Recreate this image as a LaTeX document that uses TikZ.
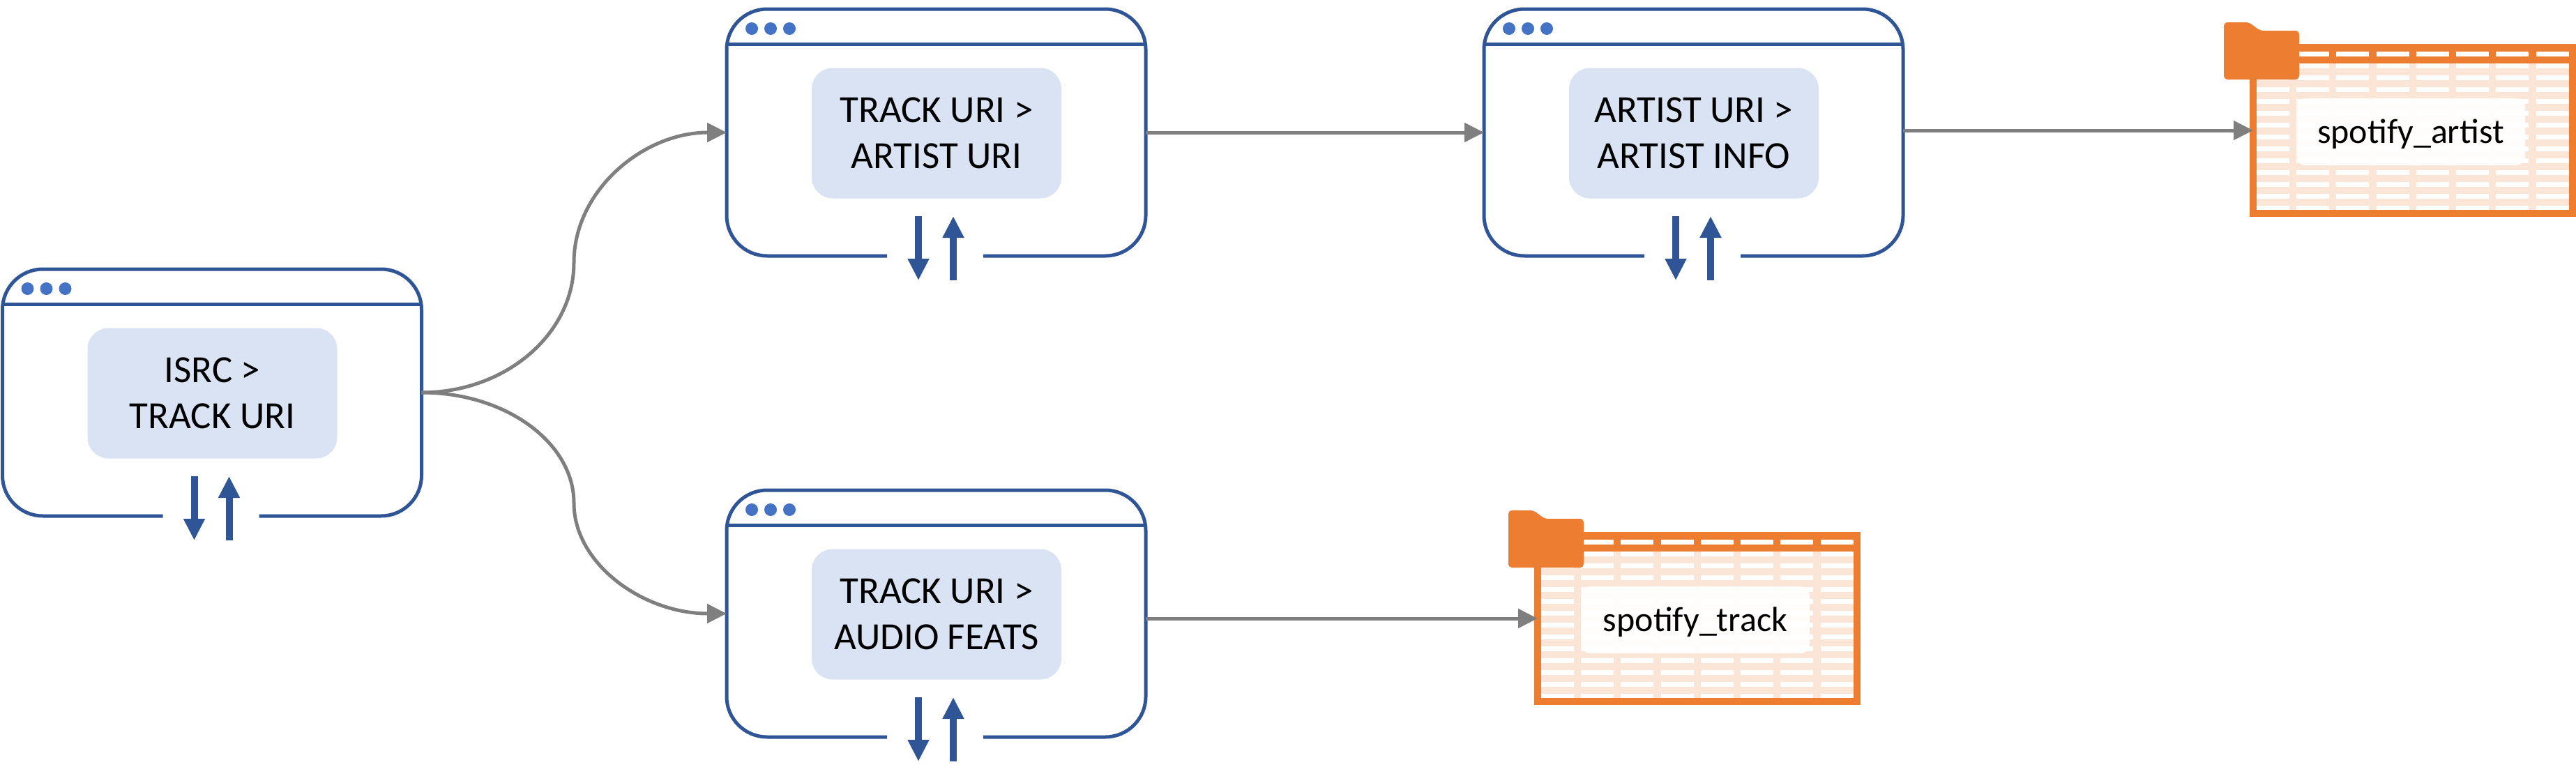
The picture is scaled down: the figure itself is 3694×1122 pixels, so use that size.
\documentclass[tikz,border=0pt]{standalone}
\usepackage{fontspec}
\setmainfont{Carlito}
\usetikzlibrary{arrows.meta}
\definecolor{wblue}{HTML}{2F5597}
\definecolor{wdot}{HTML}{4472C4}
\definecolor{wfill}{HTML}{DAE3F3}
\definecolor{torange}{HTML}{ED7D31}
\definecolor{tlight}{HTML}{FBE5D6}
\definecolor{cgrey}{HTML}{7F7F7F}
\tikzset{
  frameline/.style={draw=wblue,line width=5pt},
  windot/.style={fill=wdot,draw=none},
  iolink/.style={draw=wblue,line width=10pt,-{Triangle[length=31pt,width=29pt]}},
  windowbox/.style={minimum width=601pt,minimum height=354pt,inner sep=0pt,outer sep=0pt},
  stepcard/.style={fill=wfill,rounded corners=30pt,minimum width=358pt,minimum height=187pt,inner sep=0pt,align=center,font=\fontsize{55pt}{66pt}\selectfont},
  tableframe/.style={draw=torange,line width=10pt,minimum width=458pt,minimum height=238pt,inner sep=0pt,outer sep=0pt},
  tablecard/.style={fill=white,fill opacity=.93,text opacity=1,rounded corners=13pt,minimum width=328pt,minimum height=96pt,inner sep=0pt,text height=32pt,text depth=0pt,font=\fontsize{50pt}{60pt}\selectfont},
  flow/.style={draw=cgrey,line width=5pt,-{Triangle[length=28pt,width=27pt]}},
}
\newcommand{\windowat}[5]{%
  \begin{scope}[shift={(#2,#3)}]
    \node[windowbox] (#1) at (300.5,177) {};
    \draw[frameline,rounded corners=58pt] (230,354) -- (0,354) -- (0,0) -- (601,0) -- (601,354) -- (368,354);
    \draw[frameline] (1,50) -- (600,50);
    \foreach \dx in {36,63,90} \fill[windot] (\dx,28) circle (9);
    \node[stepcard] (#1card) at (301,178) {#4\\#5};
    \draw[iolink] (275,297) -- (275,389);
    \draw[iolink] (325,389) -- (325,297);
  \end{scope}}
\newcommand{\tableat}[4]{%
  \begin{scope}[shift={(#2,#3)}]
    \fill[tlight] (10,28) rectangle (458,238);
    \foreach \cx in {10,67.2,124.4,181.6,239,296.1,353.4,410.6}{
      \fill[white] (\cx,11) rectangle +(46.9,7);
      \foreach \ry in {0,...,12} \fill[white] (\cx,28+\ry*17) rectangle +(46.9,6.5);
    }
    \fill[torange] (10,0) rectangle (458,11);
    \fill[torange] (10,18) rectangle (458,28);
    \foreach \cx in {56.9,114.1,171.3,228.5,285.9,343,400.3} \fill[torange] (\cx,11) rectangle (\cx+10.3,18);
    \node[tableframe] (#1) at (234,124) {};
    \fill[torange,rounded corners=5pt] (-37,51) -- (-37,-31) -- (-1,-31) -- (15,-19) -- (71,-19) -- (71,51) -- cycle;
    \node[tablecard] (#1card) at (231,126) {#4};
  \end{scope}}
\begin{document}
\begin{tikzpicture}[x=1pt,y=-1pt]
\useasboundingbox (0,0) rectangle (3694,1122);
\windowat{isrc}{3.5}{386}{ISRC >}{TRACK URI}
\windowat{turi}{1042}{13}{TRACK URI >}{ARTIST URI}
\windowat{afeat}{1042}{703}{TRACK URI >}{AUDIO FEATS}
\windowat{auri}{2128}{13}{ARTIST URI >}{ARTIST INFO}
\tableat{artist}{3226}{63}{spotify\_artist}
\tableat{track}{2200}{763}{spotify\_track}
\coordinate (mupper) at (823,376.5);
\coordinate (mlower) at (823,721.5);
\draw[flow] (isrc.east) .. controls +(120,0) and +(0,103) .. (mupper) .. controls +(0,-103) and +(-120,0) .. (turi.west);
\draw[flow] (isrc.east) .. controls +(120,0) and +(0,-87) .. (mlower) .. controls +(0,87) and +(-120,0) .. (afeat.west);
\draw[flow] (turi.east) -- (auri.west);
\draw[flow] ([yshift=3pt]auri.east) -- (artist.west);
\draw[flow] ([yshift=-7pt]afeat.east) -- (track.west);
\end{tikzpicture}
\end{document}
